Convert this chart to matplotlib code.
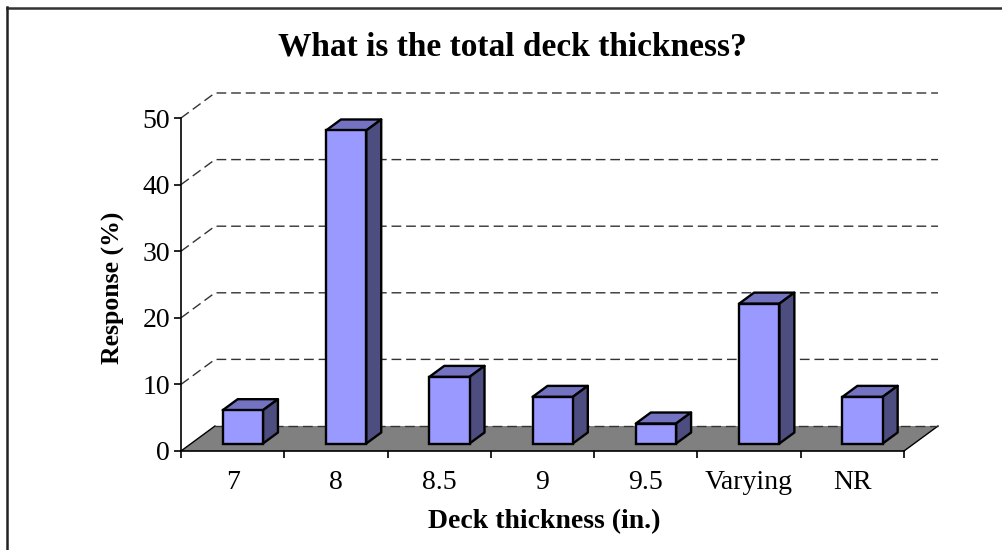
import numpy as np
import matplotlib
matplotlib.use("Agg")
import matplotlib.pyplot as plt
from matplotlib.patches import Polygon
from matplotlib.lines import Line2D
from matplotlib.transforms import ScaledTranslation, IdentityTransform

categories = ["7", "8", "8.5", "9", "9.5", "Varying", "NR"]
values = [5, 47, 10, 7, 3, 21, 7]
yticks = [0, 10, 20, 30, 40, 50]

title = "What is the total deck thickness?"
xlabel = "Deck thickness (in.)"
ylabel = "Response (%)"

plt.rcParams['font.family'] = ['Liberation Serif', 'DejaVu Serif']

W, H = 1003, 550
fig = plt.figure(figsize=(W / 100, H / 100), dpi=100)
ax = fig.add_axes([181 / W, (H - 451) / H, 723 / W, 333 / H])
n = len(categories)
ax.set_xlim(-0.5, n - 0.5)
ax.set_ylim(0, 50)
ax.set_autoscale_on(False)
ax.patch.set_visible(False)
for s in ["top", "right"]:
    ax.spines[s].set_visible(False)
ax.spines["left"].set_linewidth(1.2)
ax.spines["bottom"].set_linewidth(1.2)
ax.spines["left"].set_zorder(10)
ax.spines["bottom"].set_zorder(10)

DEPTH = np.array([34.0, 25.0])  # pixel depth of the 3-D box


def P(x, v, f):
    """data point at depth fraction f -> display pixels"""
    return ax.transData.transform((x, v)) + f * DEPTH


def poly(pts, **kw):
    p = Polygon(pts, closed=True, transform=IdentityTransform(), clip_on=False, **kw)
    ax.add_artist(p)
    return p


def line(pts, **kw):
    pts = np.asarray(pts)
    l = Line2D(pts[:, 0], pts[:, 1], transform=IdentityTransform(), clip_on=False, **kw)
    ax.add_artist(l)
    return l


x0, x1 = -0.5, n - 0.5
# floor
poly([P(x0, 0, 0), P(x1, 0, 0), P(x1, 0, 1), P(x0, 0, 1)], facecolor="#808080",
     edgecolor="none", zorder=1)
line([P(x0, 0, 0), P(x0, 0, 1)], color="black", lw=1.0, zorder=2)
line([P(x1, 0, 0), P(x1, 0, 1)], color="black", lw=1.0, zorder=2)
line([P(x0, 0, 1), P(x1, 0, 1)], color="#333333", lw=1.0, dashes=(7, 3.5), zorder=2)

# back wall gridlines + left wall diagonals
for v in yticks[1:]:
    line([P(x0, v, 0), P(x0, v, 1), P(x1, v, 1)], color="#333333", lw=1.0,
         dashes=(7, 3.5), zorder=2)

# bars
bw = 0.39
f1, f2 = 0.30, 0.74
front_c, top_c, side_c = "#9999ff", "#7373c2", "#4d4d80"
off = ScaledTranslation(f1 * DEPTH[0] / 100, f1 * DEPTH[1] / 100, fig.dpi_scale_trans)
xs = np.arange(n)
bars = ax.bar(xs, values, width=bw, color=front_c, edgecolor="black", linewidth=1.7,
              transform=ax.transData + off, clip_on=False, zorder=5)
for i, v in enumerate(values):
    l, r = i - bw / 2, i + bw / 2
    poly([P(l, v, f1), P(r, v, f1), P(r, v, f2), P(l, v, f2)], facecolor=top_c,
         edgecolor="black", linewidth=1.7, joinstyle="round", zorder=4)
    poly([P(r, 0, f1), P(r, 0, f2), P(r, v, f2), P(r, v, f1)], facecolor=side_c,
         edgecolor="black", linewidth=1.7, joinstyle="round", zorder=4)

# ticks
ax.set_yticks(yticks)
ax.set_yticklabels([str(t) for t in yticks], fontsize=20)
ax.tick_params(axis="y", direction="out", length=5, width=1.2, pad=3)
ax.set_xticks(np.arange(n + 1) - 0.5)
ax.set_xticklabels([])
ax.tick_params(axis="x", which="major", direction="out", length=5, width=1.2)
ax.set_xticks(xs, minor=True)
ax.set_xticklabels(categories, minor=True, fontsize=20)
ax.tick_params(axis="x", which="minor", length=0, pad=14)

fig.text(512 / W, 1 - 47 / H, title, ha="center", va="center", fontsize=24,
         fontweight="bold")
fig.text(544 / W, 1 - 522 / H, xlabel, ha="center", va="center", fontsize=20,
         fontweight="bold")
fig.text(113 / W, 1 - 288 / H, ylabel, ha="center", va="center", fontsize=18.5,
         fontweight="bold", rotation=90)

# chart frame (top and left edges visible)
fig.add_artist(Line2D([7 / W, 1], [1 - 7.5 / H] * 2, transform=fig.transFigure,
                      color="#333333", lw=1.8))
fig.add_artist(Line2D([7.5 / W] * 2, [0, 1 - 7 / H], transform=fig.transFigure,
                      color="#222222", lw=1.8))

fig.savefig("out.png", dpi=100)
